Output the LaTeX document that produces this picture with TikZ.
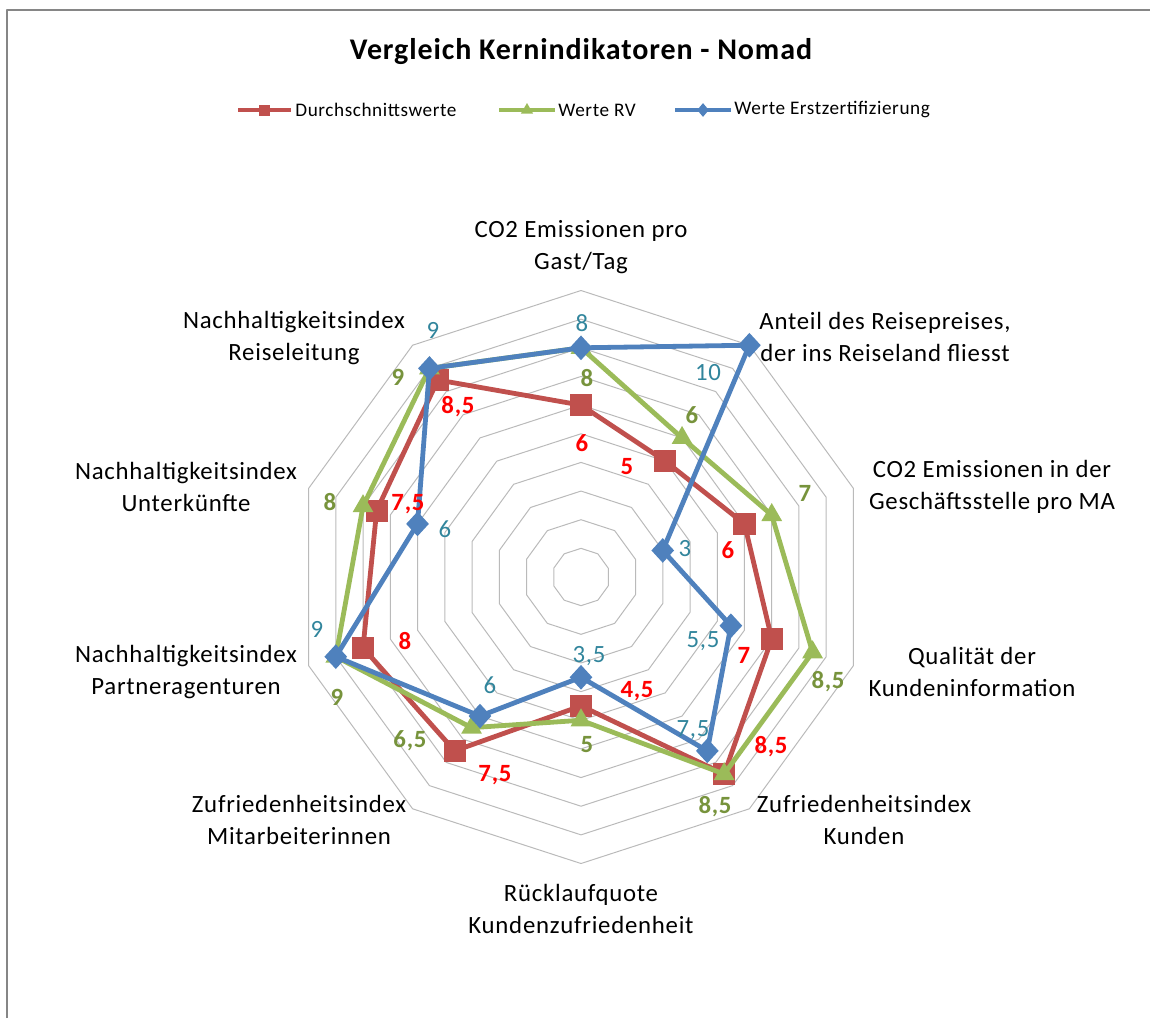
\documentclass[tikz,border=0pt]{standalone}
\usepackage{fontspec}
\setmainfont{Carlito}[LetterSpace=3]
\usetikzlibrary{shapes.geometric}

\definecolor{durchred}{HTML}{C0504D}
\definecolor{rvgreen}{HTML}{9BBB59}
\definecolor{erstblue}{HTML}{4F81BD}
\definecolor{redtext}{HTML}{FF0000}
\definecolor{greentext}{HTML}{77933C}
\definecolor{bluetext}{HTML}{31859C}
\definecolor{framegray}{HTML}{868686}

\begin{document}
\begin{tikzpicture}[x=0.5pt, y=-0.5pt, line join=round]
    \tikzstyle{ring}=[draw=black!27, line width=0.5pt]
    \tikzstyle{series}=[line width=2.4pt]
    \tikzstyle{sqmark}=[rectangle, fill=durchred, minimum size=11pt, inner sep=0pt]
    \tikzstyle{trimark}=[regular polygon, regular polygon sides=3, fill=rvgreen, minimum size=12pt, inner sep=0pt]
    \tikzstyle{diamark}=[diamond, fill=erstblue, minimum width=11.5pt, minimum height=12.5pt, inner sep=0pt]
    \tikzstyle{axis label}=[font=\fontsize{12.4}{16}\selectfont, align=center, inner sep=0pt]
    \tikzstyle{red val}=[font=\fontsize{12.4}{14}\selectfont\bfseries, text=redtext, inner sep=0pt]
    \tikzstyle{green val}=[font=\fontsize{12.4}{14}\selectfont\bfseries, text=greentext, inner sep=0pt]
    \tikzstyle{blue val}=[font=\fontsize{12.4}{14}\selectfont, text=bluetext, inner sep=0pt]
    \tikzstyle{legend}=[font=\fontsize{9.6}{11}\selectfont, anchor=west, inner sep=0pt]

    \useasboundingbox (0,0) rectangle (1150,1018);

% Frame
    \coordinate (F-bl) at (7,1018);
    \coordinate (F-tl) at (7,10);
    \coordinate (F-tr) at (1150,10);
    \draw[framegray, line width=1pt] (F-bl) -- (F-tl) -- (F-tr);

% Title and legend
    \node[font=\fontsize{15}{18}\selectfont\bfseries] (title) at (581,52) {Vergleich Kernindikatoren - Nomad};

    \coordinate (LD-a) at (238,110);
    \coordinate (LD-b) at (291,110);
    \draw[series, durchred] (LD-a) -- (LD-b);
    \node[sqmark, minimum size=5.5pt] (LD-m) at (264,110) {};
    \node[legend] (LD-t) at (295,110) {Durchschnittswerte};

    \coordinate (LR-a) at (499,110);
    \coordinate (LR-b) at (555,110);
    \draw[series, rvgreen] (LR-a) -- (LR-b);
    \node[trimark, minimum size=7pt] (LR-m) at (527,110) {};
    \node[legend] (LR-t) at (558,110) {Werte RV};

    \coordinate (LE-a) at (675,110);
    \coordinate (LE-b) at (731,110);
    \draw[series, erstblue] (LE-a) -- (LE-b);
    \node[diamark, minimum width=6pt, minimum height=7pt] (LE-m) at (703,110) {};
    \node[legend] (LE-t) at (734,110) {Werte Erstzertifizierung};

% Radar
\begin{scope}[shift={(581,577)}]
    % Rings
    \foreach \r in {1,...,10}
        \draw[ring] (-90:{\r*28.65}) \foreach \a in {1,...,9} {-- ({36*\a-90}:{\r*28.65})} -- cycle;

    % Data points
    \foreach \v [count=\i] in {6,5,6,7,8.5,4.5,7.5,8,7.5,8.5}
        \coordinate (D-\i) at ({36*\i-126}:{\v*28.65});
    \foreach \v [count=\i] in {8,6,7,8.5,8.5,5,6.5,9,8,9}
        \coordinate (R-\i) at ({36*\i-126}:{\v*28.65});
    \foreach \v [count=\i] in {8,10,3,5.5,7.5,3.5,6,9,6,9}
        \coordinate (E-\i) at ({36*\i-126}:{\v*28.65});

    % Durchschnittswerte
    \draw[series, durchred] (D-1) \foreach \i in {2,...,10} {-- (D-\i)} -- cycle;
    \foreach \i in {1,...,10}
        \node[sqmark] (DM-\i) at (D-\i) {};

    % Werte RV
    \draw[series, rvgreen] (R-1) \foreach \i in {2,...,10} {-- (R-\i)} -- cycle;
    \foreach \i in {1,...,10}
        \node[trimark] (RM-\i) at (R-\i) {};

    % Werte Erstzertifizierung
    \draw[series, erstblue] (E-1) \foreach \i in {2,...,10} {-- (E-\i)} -- cycle;
    \foreach \i in {1,...,10}
        \node[diamark] (EM-\i) at (E-\i) {};
\end{scope}

% Data labels
    \foreach \x/\y/\t [count=\i] in {582/443/6, 627/467/5, 728/550/6, 744/655/7, 771/747/8{,}5,
            637/691/4{,}5, 495/775/7{,}5, 405/641/8, 408/504/7{,}5, 458/407/8{,}5}
        \node[red val] (DL-\i) at (\x,\y) {\t};
    \foreach \x/\y/\t [count=\i] in {587/378/8, 692/415/6, 805/493/7, 828/682/8{,}5, 715/807/8{,}5,
            587/745/5, 410/741/6{,}5, 337/697/9, 330/502/8, 398/377/9}
        \node[green val] (RL-\i) at (\x,\y) {\t};
    \foreach \x/\y/\t [count=\i] in {582/323/8, 708/373/10, 685/549/3, 703/641/5{,}5, 693/730/7{,}5,
            589/656/3{,}5, 490/685/6, 317/629/9, 445/529/6, 433/330/9}
        \node[blue val] (EL-\i) at (\x,\y) {\t};

% Axis labels
    \node[axis label] (A-1) at (581,247) {CO2 Emissionen pro\\Gast/Tag};
    \node[axis label] (A-2) at (885,337) {Anteil des Reisepreises,\\der ins Reiseland fliesst};
    \node[axis label] (A-3) at (992,487) {CO2 Emissionen in der\\Geschäftsstelle pro MA};
    \node[axis label] (A-4) at (972,672) {Qualität der\\Kundeninformation};
    \node[axis label] (A-5) at (864,820) {Zufriedenheitsindex\\Kunden};
    \node[axis label] (A-6) at (581,909) {Rücklaufquote\\Kundenzufriedenheit};
    \node[axis label] (A-7) at (299,820) {Zufriedenheitsindex\\Mitarbeiterinnen};
    \node[axis label] (A-8) at (186,672) {Nachhaltigkeitsindex\\Partneragenturen};
    \node[axis label] (A-9) at (186,487) {Nachhaltigkeitsindex\\Unterkünfte};
    \node[axis label] (A-10) at (294,338) {Nachhaltigkeitsindex\\Reiseleitung};

\end{tikzpicture}
\end{document}
